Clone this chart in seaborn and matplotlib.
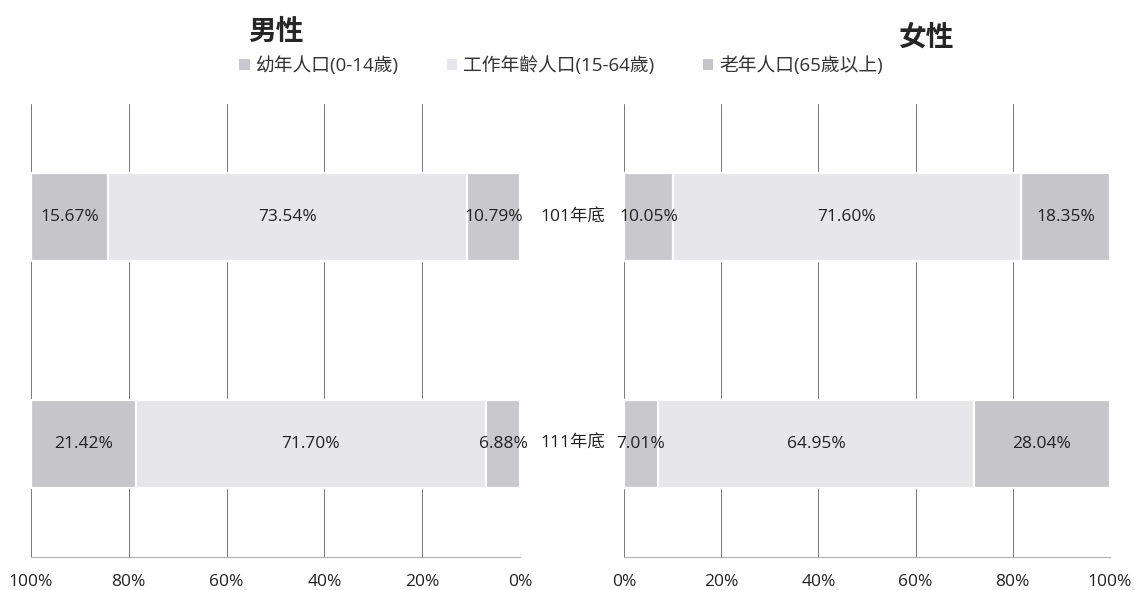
import matplotlib
matplotlib.use("Agg")
import matplotlib.pyplot as plt
import seaborn as sns
import pandas as pd
import numpy as np
from matplotlib.patches import Patch

sns.set_theme(style="white")
plt.rcParams['font.family'] = ['Open Sans', 'Noto Sans CJK TC', 'DejaVu Sans']

years = ["101年底", "111年底"]
series = ["幼年人口(0-14歲)", "工作年齡人口(15-64歲)", "老年人口(65歲以上)"]
male_child = [10.79, 6.88]
male_work = [73.54, 71.70]
male_old = [15.67, 21.42]
female_child = [10.05, 7.01]
female_work = [71.60, 64.95]
female_old = [18.35, 28.04]
ticks = [0, 20, 40, 60, 80, 100]
tick_labels = ["0%", "20%", "40%", "60%", "80%", "100%"]

colors = ["#c9c9cd", "#e7e7eb", "#c6c6ca"]

W, H = 1137, 590
fig = plt.figure(figsize=(W / 100, H / 100), dpi=100)
top, bottom = 104, 557
axL = fig.add_axes([31 / W, 1 - bottom / H, (520 - 31) / W, (bottom - top) / H])
axR = fig.add_axes([624 / W, 1 - bottom / H, (1110 - 624) / W, (bottom - top) / H])

def draw(ax, child, work, old):
    df = pd.DataFrame({"year": years, "c": child, "w": work, "o": old})
    vals = [df["c"].values, df["w"].values, df["o"].values]
    cum = np.cumsum(vals, axis=0)
    for i in [2, 1, 0]:
        sns.barplot(x=cum[i], y=df["year"], orient="h", color=colors[i],
                    ax=ax, width=0.39, edgecolor="white", linewidth=1.6,
                    saturation=1)
    for j in range(len(years)):
        start = 0
        for i in range(3):
            v = vals[i][j]
            ax.text(start + v / 2, j, f"{v:.2f}%", ha="center", va="center",
                    fontsize=12.5, color="#222222", family=['Open Sans', 'DejaVu Sans'])
            start += v
    ax.set_xlim(0, 100)
    ax.set_ylim(1.5, -0.5)
    ax.set_xticks(ticks)
    ax.set_xticklabels(tick_labels, fontsize=12.5, color="#222222")
    ax.tick_params(axis="x", length=0, pad=12)
    ax.set_yticks([])
    ax.set_ylabel("")
    ax.set_xlabel("")
    ax.xaxis.grid(True, color="#777777", linewidth=0.7)
    ax.set_axisbelow(True)
    for s in ["top", "left", "right"]:
        ax.spines[s].set_visible(False)
    ax.spines["bottom"].set_color("#b0b0b0")
    ax.spines["bottom"].set_linewidth(0.8)

draw(axL, male_child, male_work, male_old)
axL.set_xlim(100, 0)
draw(axR, female_child, female_work, female_old)

for j, y in enumerate(years):
    yfig = 1 - (top + (bottom - top) * (0.25 + 0.5 * j)) / H
    fig.text(573 / W, yfig, y, ha="center", va="center", fontsize=12.5,
             color="#222222", family=['Open Sans', 'Noto Sans CJK TC'])

fig.text(276 / W, 1 - 32 / H, "男性", ha="center", va="center", fontsize=20,
         fontweight="bold", family=['Noto Sans CJK TC'])
fig.text(927 / W, 1 - 38 / H, "女性", ha="center", va="center", fontsize=20,
         fontweight="bold", family=['Noto Sans CJK TC'])

handles = [Patch(facecolor=colors[i], edgecolor="none") for i in range(3)]
leg = fig.legend(handles, series, loc="center", bbox_to_anchor=(561 / W, 1 - 66 / H),
                 ncol=3, frameon=False, handlelength=0.55, handleheight=0.55,
                 handletextpad=0.3, columnspacing=2.6,
                 prop={'family': ['Open Sans', 'Noto Sans CJK TC'], 'size': 13.5})
for t in leg.get_texts():
    t.set_color("#333333")

fig.savefig("out.png", dpi=100, facecolor="white")
